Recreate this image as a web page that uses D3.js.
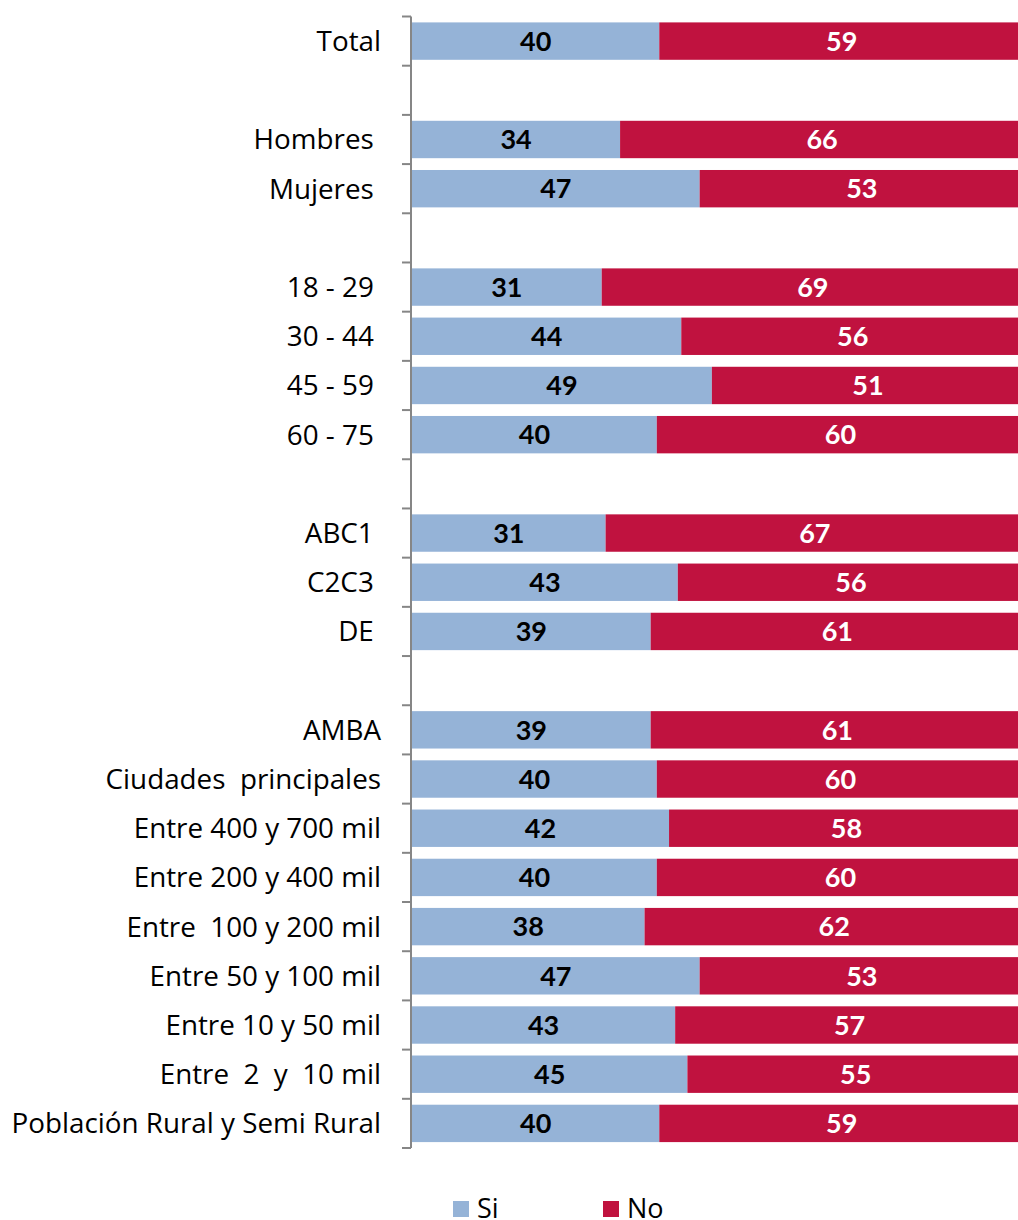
<!DOCTYPE html>
<html>
<head>
<meta charset="utf-8">
<script src="https://cdn.jsdelivr.net/npm/d3@7"></script>
<style>
  html, body { margin: 0; padding: 0; background: #fff; }
  svg { display: block; }
  text { font-family: "Open Sans", Lato, sans-serif; white-space: pre; }
  text.val { font-family: Lato, "Open Sans", sans-serif; }
</style>
</head>
<body>
<svg id="chart" width="1018" height="1220"></svg>
<script>
// Rows of the chart; empty strings are spacer rows between groups
const categories = [
  "Total", "",
  "Hombres ", "Mujeres ", "",
  "18 - 29 ", "30 - 44 ", "45 - 59 ", "60 - 75 ", "",
  "ABC1 ", "C2C3 ", "DE ", "",
  "AMBA", "Ciudades  principales", "Entre 400 y 700 mil", "Entre 200 y 400 mil",
  "Entre  100 y 200 mil", "Entre 50 y 100 mil", "Entre 10 y 50 mil",
  "Entre  2  y  10 mil", "Población Rural y Semi Rural"
];
const siValues = [40, null, 34, 47, null, 31, 44, 49, 40, null, 31, 43, 39, null, 39, 40, 42, 40, 38, 47, 43, 45, 40];
const noValues = [59, null, 66, 53, null, 69, 56, 51, 60, null, 67, 56, 61, null, 61, 60, 58, 60, 62, 53, 57, 55, 59];
const seriesNames = ["Si", "No"];
const seriesColors = ["#95B3D7", "#C0123F"];

const svg = d3.select("#chart");
const rowIds = categories.map((c, i) => i);

const y = d3.scaleBand().domain(rowIds).range([16.5, 1148]).paddingInner(0.24).paddingOuter(0.12);
const x = d3.scaleLinear().domain([0, 1]).range([412, 1024]);

// 100% stacked rows
const rows = rowIds.map(i => {
  const si = siValues[i], no = noValues[i];
  if (si == null) return null;
  const tot = si + no;
  return { i, segs: [
    { key: 0, v: si, x0: 0, x1: si / tot },
    { key: 1, v: no, x0: si / tot, x1: 1 }
  ]};
}).filter(d => d);

const g = svg.append("g");
const rowG = g.selectAll("g.row").data(rows).join("g").attr("class", "row");

rowG.selectAll("rect").data(d => d.segs.map(s => ({ ...s, i: d.i }))).join("rect")
  .attr("x", d => x(d.x0))
  .attr("y", d => y(d.i))
  .attr("width", d => x(d.x1) - x(d.x0))
  .attr("height", y.bandwidth())
  .attr("fill", d => seriesColors[d.key]);

rowG.selectAll("text").data(d => d.segs.map(s => ({ ...s, i: d.i }))).join("text")
  .attr("class", "val")
  .attr("x", d => (x(d.x0) + x(d.x1)) / 2)
  .attr("y", d => y(d.i) + y.bandwidth() / 2)
  .attr("dy", "0.36em")
  .attr("text-anchor", "middle")
  .attr("font-size", 27)
  .attr("font-weight", "bold")
  .attr("fill", d => d.key === 0 ? "#000" : "#fff")
  .text(d => d.v);

// Category axis with ticks between rows
const axisX = 411;
const step = y.step();
const start = 16.5;
g.append("line")
  .attr("x1", axisX).attr("x2", axisX)
  .attr("y1", start).attr("y2", start + step * categories.length)
  .attr("stroke", "#868686").attr("stroke-width", 2);
g.selectAll("line.tick").data(d3.range(categories.length + 1)).join("line")
  .attr("class", "tick")
  .attr("x1", axisX - 9).attr("x2", axisX)
  .attr("y1", k => start + k * step).attr("y2", k => start + k * step)
  .attr("stroke", "#868686").attr("stroke-width", 2);

g.selectAll("text.cat").data(rowIds.filter(i => categories[i] !== "")).join("text")
  .attr("class", "cat")
  .attr("x", 381)
  .attr("y", i => y(i) + y.bandwidth() / 2)
  .attr("dy", "0.36em")
  .attr("text-anchor", "end")
  .attr("font-size", 27.8)
  .attr("fill", "#000")
  .text(i => categories[i]);

// Legend
const legendX = [453, 603];
const leg = svg.append("g").selectAll("g").data(seriesNames).join("g")
  .attr("transform", (d, k) => `translate(${legendX[k]},1201)`);
leg.append("rect").attr("width", 16).attr("height", 16).attr("fill", (d, k) => seriesColors[k]);
leg.append("text").attr("x", 24).attr("y", 8).attr("dy", "0.34em")
  .attr("font-size", 27).attr("fill", "#000").text(d => d);
</script>
</body>
</html>
